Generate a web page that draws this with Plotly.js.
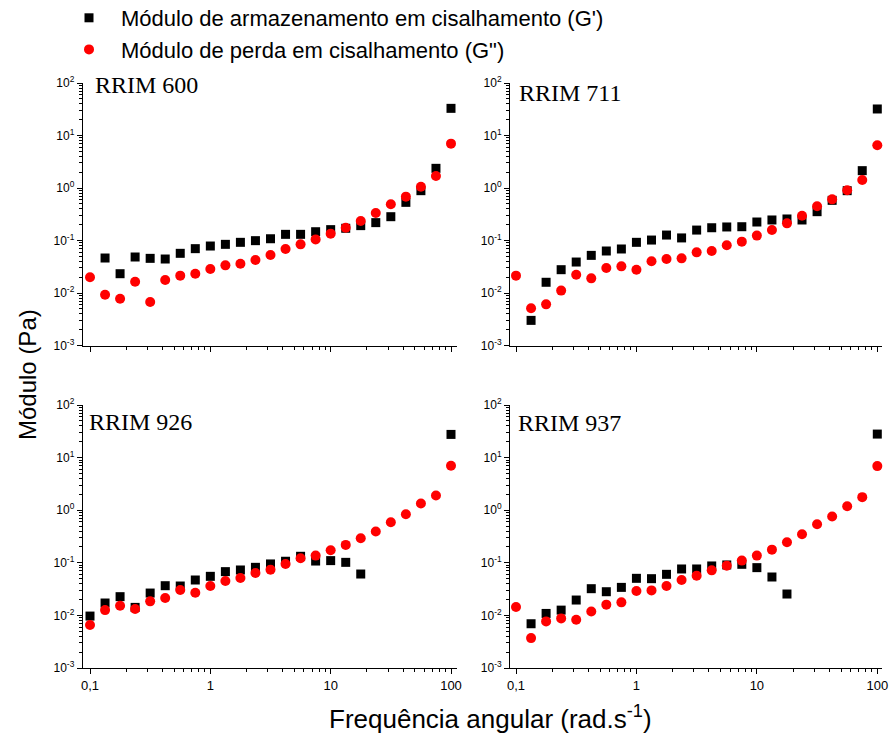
<!DOCTYPE html>
<html>
<head>
<meta charset="utf-8">
<script src="https://cdn.plot.ly/plotly-3.0.1.min.js"></script>
<style>html,body{margin:0;padding:0;background:#fff;}#chart{width:891px;height:735px;}</style>
</head>
<body>
<div id="chart"></div>
<script>
// Angular frequency (rad/s)
const freq = [0.1, 0.1334, 0.1778, 0.2371, 0.3162, 0.4217, 0.5623, 0.7499, 1, 1.334, 1.778, 2.371, 3.162, 4.217, 5.623, 7.499, 10, 13.34, 17.78, 23.71, 31.62, 42.17, 56.23, 74.99, 100];

// Sample names
const samples = ['RRIM 600', 'RRIM 711', 'RRIM 926', 'RRIM 937'];

// Storage modulus G' (Pa)
const rrim600_Gp = [null, 0.0464, 0.0233, 0.0485, 0.0457, 0.0444, 0.0570, 0.0699, 0.0785, 0.0845, 0.0923, 0.0993, 0.108, 0.131, 0.131, 0.147, 0.161, 0.171, 0.192, 0.219, 0.284, 0.533, 0.889, 2.37, 32.9];
const rrim711_Gp = [null, 0.00301, 0.0160, 0.0278, 0.0389, 0.0521, 0.0631, 0.0689, 0.0923, 0.102, 0.127, 0.112, 0.158, 0.175, 0.181, 0.183, 0.225, 0.246, 0.257, 0.246, 0.354, 0.582, 0.889, 2.14, 32.0];
const rrim926_Gp = [0.00971, 0.0172, 0.0227, 0.0142, 0.0266, 0.0367, 0.0362, 0.0471, 0.0553, 0.0679, 0.0730, 0.0820, 0.0951, 0.107, 0.133, 0.108, 0.110, 0.102, 0.0612, null, null, null, null, null, 27.6];
const rrim937_Gp = [null, 0.00694, 0.0109, 0.0126, 0.0196, 0.0322, 0.0282, 0.0341, 0.0507, 0.0499, 0.0604, 0.0763, 0.0763, 0.0871, 0.0910, 0.0936, 0.0809, 0.0537, 0.0255, null, null, null, null, null, 28.0];

// Loss modulus G'' (Pa)
const rrim600_Gpp = [0.0199, 0.00929, 0.00780, 0.0164, 0.00674, 0.0177, 0.0214, 0.0233, 0.0286, 0.0336, 0.0362, 0.0425, 0.0530, 0.0689, 0.0845, 0.105, 0.135, 0.175, 0.235, 0.334, 0.489, 0.684, 1.06, 1.69, 6.99];
const rrim711_Gpp = [0.0214, 0.00511, 0.00608, 0.0111, 0.0223, 0.0190, 0.0299, 0.0322, 0.0278, 0.0401, 0.0444, 0.0457, 0.0595, 0.0631, 0.0809, 0.0951, 0.124, 0.158, 0.212, 0.297, 0.448, 0.608, 0.903, 1.42, 6.50];
const rrim926_Gpp = [0.00655, 0.0126, 0.0153, 0.0132, 0.0185, 0.0214, 0.0304, 0.0270, 0.0362, 0.0451, 0.0514, 0.0640, 0.0741, 0.0951, 0.122, 0.137, 0.173, 0.219, 0.293, 0.393, 0.591, 0.839, 1.34, 1.90, 6.99];
const rrim937_Gpp = [0.0144, 0.00370, 0.00769, 0.00877, 0.00826, 0.0119, 0.0160, 0.0177, 0.0291, 0.0299, 0.0362, 0.0471, 0.0570, 0.0719, 0.0883, 0.110, 0.137, 0.178, 0.246, 0.349, 0.541, 0.757, 1.19, 1.77, 6.89];

// Series names
const seriesGp = "Módulo de armazenamento em cisalhamento (G')";
const seriesGpp = 'Módulo de perda em cisalhamento (G")';

// Tick labels
const xTickVals = [0.1, 1, 10, 100];
const xTickText = ['0,1', '1', '10', '100'];
const yTickVals = [0.001, 0.01, 0.1, 1, 10, 100];
const yTickText = ['10<sup>-3</sup>', '10<sup>-2</sup>', '10<sup>-1</sup>', '10<sup>0</sup>', '10<sup>1</sup>', '10<sup>2</sup>'];

const xTitle = 'Frequência angular (rad.s<sup>-1</sup>)';
const yTitle = 'Módulo (Pa)';

const GpData = [rrim600_Gp, rrim711_Gp, rrim926_Gp, rrim937_Gp];
const GppData = [rrim600_Gpp, rrim711_Gpp, rrim926_Gpp, rrim937_Gpp];

// minor tick positions (2..9 per decade)
function minorVals(lo, hi) {
  const v = [];
  for (let e = lo; e < hi; e++) for (let m = 2; m <= 9; m++) v.push(m * Math.pow(10, e));
  return v;
}

const W = 891, H = 735;
const panelsPx = [
  {x0: 82.7, x1: 456.5, y0: 83, y1: 345.5, xr: [-1.0607, 2.0457], lab: [94, 85]},
  {x0: 510, x1: 881.7, y0: 83, y1: 345.5, xr: [-1.0498, 2.0365], lab: [518, 93]},
  {x0: 82.7, x1: 456.5, y0: 405, y1: 668, xr: [-1.0607, 2.0457], lab: [88, 422]},
  {x0: 510, x1: 881.7, y0: 405, y1: 668, xr: [-1.0498, 2.0365], lab: [517, 423]}
];

const font = 'Liberation Sans, Arial, sans-serif';
const traces = [];
const layout = {
  width: W, height: H,
  margin: {l: 0, r: 0, t: 0, b: 0, autoexpand: false},
  paper_bgcolor: '#fff', plot_bgcolor: '#fff',
  showlegend: true,
  legend: {
    x: 57 / W, y: 1 + 3 / H, xanchor: 'left', yanchor: 'top',
    font: {family: font, size: 22, color: '#000'},
    bgcolor: 'rgba(0,0,0,0)', borderwidth: 0, itemwidth: 54, tracegroupgap: 0
  },
  annotations: [],
  font: {family: font, color: '#000'}
};

panelsPx.forEach((p, i) => {
  const sfx = i === 0 ? '' : String(i + 1);
  const xa = 'x' + sfx, ya = 'y' + sfx;
  traces.push({
    x: freq, y: GpData[i], xaxis: xa, yaxis: ya, type: 'scatter', mode: 'markers',
    name: seriesGp, showlegend: i === 0,
    marker: {symbol: 'square', size: 9, color: '#000'}, cliponaxis: false
  });
  traces.push({
    x: freq, y: GppData[i], xaxis: xa, yaxis: ya, type: 'scatter', mode: 'markers',
    name: seriesGpp, showlegend: i === 0,
    marker: {symbol: 'circle', size: 10, color: '#ff0000'}, cliponaxis: false
  });
  const bottom = i >= 2;
  layout['xaxis' + sfx] = {
    type: 'log', domain: [p.x0 / W, p.x1 / W], range: p.xr, anchor: ya,
    showline: true, linecolor: '#000', linewidth: 1, mirror: false,
    ticks: 'outside', ticklen: 5, tickwidth: 1, tickcolor: '#000',
    tickmode: 'array', tickvals: xTickVals, ticktext: xTickText,
    showticklabels: bottom, tickfont: {family: font, size: 13, color: '#000'},
    showgrid: false, zeroline: false, fixedrange: true, automargin: false,
    minor: {tickmode: 'array', tickvals: minorVals(-1, 2), ticks: 'outside', ticklen: 3, tickwidth: 1, tickcolor: '#000', showgrid: false}
  };
  layout['yaxis' + sfx] = {
    type: 'log', domain: [1 - p.y1 / H, 1 - p.y0 / H], range: [-3, 2], anchor: xa,
    showline: true, linecolor: '#000', linewidth: 1, mirror: false,
    ticks: 'outside', ticklen: 5, tickwidth: 1, tickcolor: '#000',
    tickmode: 'array', tickvals: yTickVals, ticktext: yTickText,
    tickfont: {family: font, size: 12, color: '#000'},
    showgrid: false, zeroline: false, fixedrange: true, automargin: false,
    minor: {tickmode: 'array', tickvals: minorVals(-3, 2), ticks: 'outside', ticklen: 3, tickwidth: 1, tickcolor: '#000', showgrid: false}
  };
  layout.annotations.push({
    text: samples[i], xref: 'paper', yref: 'paper',
    x: p.lab[0] / W, y: 1 - p.lab[1] / H, xanchor: 'left', yanchor: 'middle',
    showarrow: false, borderpad: 0,
    font: {family: 'Liberation Serif, Times New Roman, serif', size: 24, color: '#000'}
  });
});

layout.annotations.push({
  text: xTitle, xref: 'paper', yref: 'paper', x: 490 / W, y: 1 - 717 / H,
  xanchor: 'center', yanchor: 'middle', showarrow: false,
  font: {family: font, size: 26, color: '#000'}
});
layout.annotations.push({
  text: yTitle, xref: 'paper', yref: 'paper', x: 27 / W, y: 1 - 375 / H,
  xanchor: 'center', yanchor: 'middle', showarrow: false, textangle: -90,
  font: {family: font, size: 24, color: '#000'}
});

Plotly.newPlot('chart', traces, layout, {displayModeBar: false, staticPlot: true});
</script>
</body>
</html>
